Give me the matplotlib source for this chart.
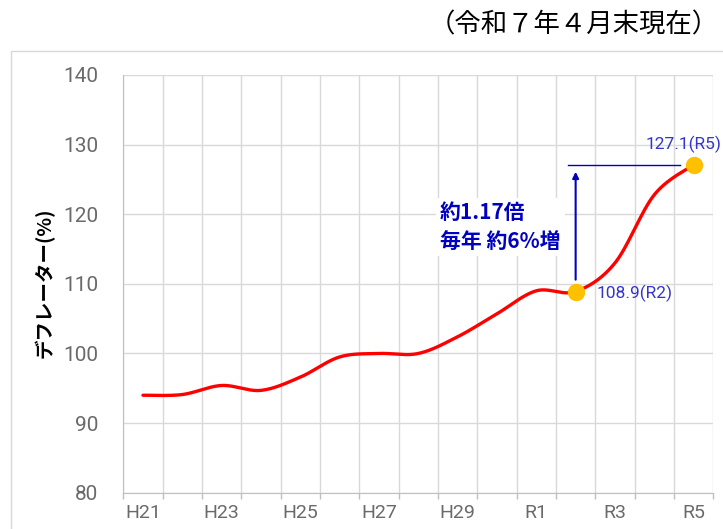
import numpy as np
import matplotlib
matplotlib.use('Agg')
import matplotlib.pyplot as plt
from matplotlib.patches import Rectangle

# deflator by fiscal year (H21 .. R5)
years = ['H21', 'H22', 'H23', 'H24', 'H25', 'H26', 'H27', 'H28', 'H29', 'H30',
         'R1', 'R2', 'R3', 'R4', 'R5']
deflator = [94.0, 94.1, 95.4, 94.7, 96.6, 99.5, 100.0, 100.0, 102.4, 105.7,
            109.0, 108.9, 113.0, 122.8, 127.1]
highlight = [11, 14]          # R2 and R5
yticks = [80, 90, 100, 110, 120, 130, 140]
title = '（令和７年４月末現在）'
ylabel = 'デフレーター(%)'
note = '約1.17倍\n毎年 約6%増'

cjk = ['Noto Sans CJK JP', 'DejaVu Sans']
num = ['Roboto', 'Noto Sans CJK JP', 'DejaVu Sans']
gray = '#6A6A6A'
grid = '#D9D9D9'
blue = '#0000C0'
lblue = '#3535CC'


def smooth(y, n=30):
    # excel-like smoothed line: cubic bezier through each point (catmull-rom control points)
    x = np.arange(len(y), dtype=float)
    y = np.asarray(y, dtype=float)
    px = np.concatenate([[x[0]], x, [x[-1]]])
    py = np.concatenate([[y[0]], y, [y[-1]]])
    xs, ys = [], []
    t = np.linspace(0, 1, n)
    for i in range(len(y) - 1):
        p0 = np.array([px[i + 1], py[i + 1]])
        p3 = np.array([px[i + 2], py[i + 2]])
        p1 = p0 + (p3 - np.array([px[i], py[i]])) / 6
        p2 = p3 - (np.array([px[i + 3], py[i + 3]]) - p0) / 6
        b = ((1 - t)**3)[:, None] * p0 + (3 * (1 - t)**2 * t)[:, None] * p1 \
            + (3 * (1 - t) * t**2)[:, None] * p2 + (t**3)[:, None] * p3
        xs.extend(b[:, 0])
        ys.extend(b[:, 1])
    return np.array(xs), np.array(ys)


fig = plt.figure(figsize=(7.23, 5.29), dpi=100)
ax = fig.add_axes([123.3 / 723, 1 - 492.7 / 529, 590 / 723, 417.7 / 529])

# outer frame of the chart area
fig.patches.append(Rectangle((11 / 723, -0.02), 1.0, 1 - 51 / 529 + 0.02,
                             transform=fig.transFigure, fill=False,
                             edgecolor=grid, lw=1))

sx, sy = smooth(deflator)
ax.plot(sx, sy, color='#FF0000', lw=2.4, solid_capstyle='round', zorder=3)
ax.plot(highlight, [deflator[i] for i in highlight], 'o', color='#FFC000',
        markersize=11.5, zorder=4)

# data labels
i = highlight[0]
ax.annotate(f'{deflator[i]}({years[i]})', (i, deflator[i]), xytext=(15, -1.5),
            textcoords='offset points', ha='left', va='center', color=lblue,
            fontsize=12.5, family=num)
i = highlight[1]
ax.annotate(f'{deflator[i]}({years[i]})', (i, deflator[i]), xytext=(-7, 14.5),
            textcoords='offset points', ha='center', va='center', color=lblue,
            fontsize=12.5, family=num)

# growth arrow and reference line
ax.plot([10.8, 13.65], [deflator[14], deflator[14]], color=blue, lw=1, zorder=2)
ax.annotate('', xy=(11, 126.5), xytext=(11, 110.2),
            arrowprops=dict(arrowstyle='-|>', color=blue, lw=1.5, mutation_scale=9),
            zorder=2)
ax.text(7.55, 118.2, note, ha='left', va='center', color=blue, fontsize=15,
        fontweight='bold', family=cjk, linespacing=1.45,
        bbox=dict(facecolor='white', edgecolor='none', pad=3), zorder=2)

ax.set_xlim(-0.5, len(years) - 0.5)
ax.set_ylim(80, 140)
ax.set_yticks(yticks)
ax.set_xticks(range(0, len(years), 2))
ax.set_xticklabels(years[::2])
ax.set_xticks(np.arange(-0.5, len(years), 1), minor=True)
ax.tick_params(axis='x', which='major', length=0, pad=8, labelsize=14, labelcolor=gray)
ax.tick_params(axis='x', which='minor', length=4, color='#BFBFBF', width=1)
ax.tick_params(axis='y', length=0, pad=18, labelsize=15, labelcolor=gray)
for lab in ax.get_xticklabels() + ax.get_yticklabels():
    lab.set_family(num)

ax.grid(True, which='minor', axis='x', color=grid, lw=1)
ax.grid(True, which='major', axis='y', color=grid, lw=1)
ax.set_axisbelow(True)
for s in ['top', 'right']:
    ax.spines[s].set_visible(False)
for s in ['left', 'bottom']:
    ax.spines[s].set_color('#BFBFBF')

fig.text(45 / 723, 1 - 283 / 529, ylabel, rotation=90, ha='center', va='center',
         fontsize=14, fontweight='bold', family=cjk)
fig.text(719 / 723, 1 - 25 / 529, title, ha='right', va='center', fontsize=19,
         family=cjk)

fig.savefig('out.png', dpi=100)
